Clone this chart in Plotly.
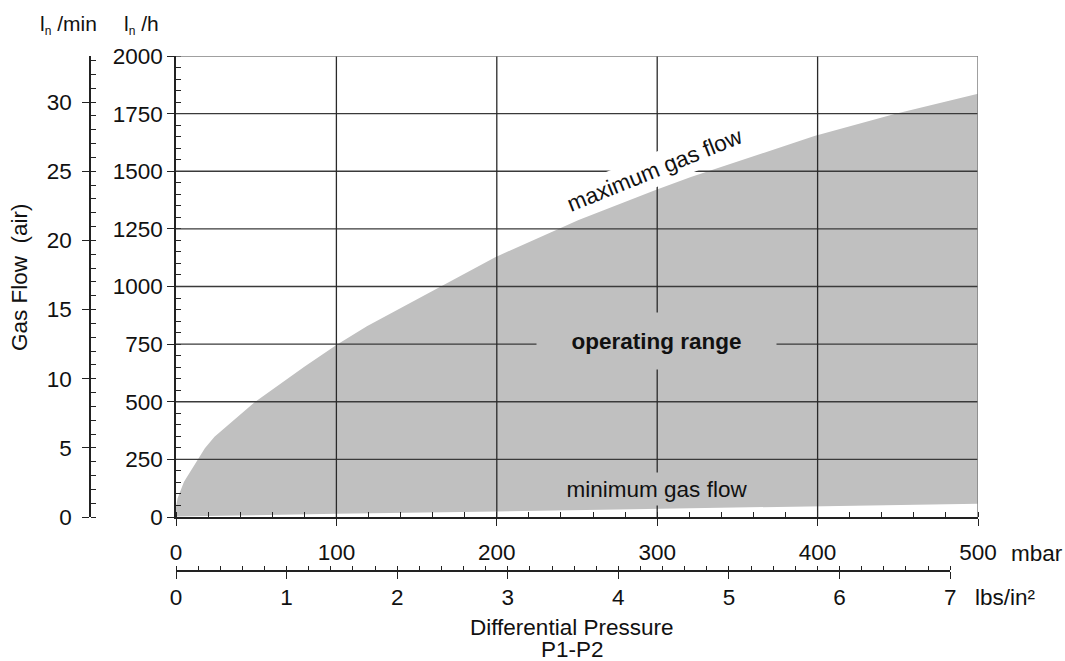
import plotly.graph_objects as go

OFF = 0                      # page body margin removed by post_script
W, H = 1065, 661

# ---- data ----
max_p = [0, 1, 5, 13, 18, 24, 49, 80, 100, 119, 164, 199, 251, 299, 321, 398, 448, 500]       # mbar
max_q = [43, 81, 153, 244, 298, 348, 498, 652, 746, 828, 997, 1127, 1289, 1419, 1475, 1653, 1748, 1836]  # l/h
min_p = [0, 50, 100, 200, 300, 400, 500]
min_q = [2, 8, 14, 24, 35, 46, 58]

mbar_ticks = [0, 100, 200, 300, 400, 500]
lh_ticks = [0, 250, 500, 750, 1000, 1250, 1500, 1750, 2000]
lmin_ticks = [0, 5, 10, 15, 20, 25, 30]
psi_ticks = [0, 1, 2, 3, 4, 5, 6, 7]

MBAR_PER_PSI = 68.9476
FONT = "Liberation Sans, Arial, sans-serif"
FS = 22.5

def px(x):
    return (x - OFF) / W

def py(y):
    return 1 - (y - OFF) / H

# polygon of the operating range
poly_x = max_p + min_p[::-1]
poly_y = max_q + min_q[::-1]

fig = go.Figure()
fig.add_trace(go.Scatter(x=poly_x, y=poly_y, fill="toself", fillcolor="#c0c0c0",
                         mode="lines", line=dict(width=0, color="#c0c0c0"),
                         hoverinfo="skip", showlegend=False))
# invisible trace to instantiate the secondary axes
fig.add_trace(go.Scatter(x=[0], y=[0], xaxis="x2", yaxis="y2", mode="markers",
                         marker=dict(opacity=0), showlegend=False, hoverinfo="skip"))

shapes = []
for v in lh_ticks[1:-1]:
    shapes.append(dict(type="line", xref="x", yref="y", x0=0, x1=500, y0=v, y1=v,
                       line=dict(color="#3a3a3a", width=1.3)))
for v in mbar_ticks[1:-1]:
    shapes.append(dict(type="line", xref="x", yref="y", x0=v, x1=v, y0=0, y1=2000,
                       line=dict(color="#2a2a2a", width=1.3)))
shapes.append(dict(type="line", xref="x", yref="y", x0=0, x1=500, y0=2000, y1=2000,
                   line=dict(color="#808080", width=1.5)))
shapes.append(dict(type="line", xref="x", yref="y", x0=500, x1=500, y0=0, y1=2000,
                   line=dict(color="#808080", width=1.5)))

axcol = "#222"
tf = dict(family=FONT, size=FS, color="#111")
tf_small = dict(family=FONT, size=21, color="#111")
SUB = "<sub><span style='font-size:12px;color:#111'>n</span></sub>"

def label(x, y, text, font=tf, **kw):
    return dict(x=px(x), y=py(y), xref="paper", yref="paper", text=text, showarrow=False,
                xanchor="center", yanchor="middle", font=font, **kw)

annotations = [
    dict(x=298.6, y=1505, xref="x", yref="y", text="maximum gas flow", showarrow=False,
         xanchor="center", yanchor="middle",
         textangle=-22, bgcolor="white", width=200, height=30, font=tf),
    dict(x=299.3, y=762, xref="x", yref="y", text="<b>operating range</b>", showarrow=False,
         xanchor="center", yanchor="middle",
         bgcolor="#c0c0c0", width=237, height=54, font=tf),
    dict(x=300, y=122, xref="x", yref="y", text="minimum gas flow", showarrow=False,
         xanchor="center", yanchor="middle",
         bgcolor="#c0c0c0", width=192, height=30, font=tf),
    label(19, 277, "Gas Flow  (air)", textangle=-90),
    label(68, 25, "l" + SUB + " /min", font=tf_small),
    label(141, 25, "l" + SUB + " /h", font=tf_small),
    label(1037, 553, "mbar"),
    label(1005, 597, "lbs/in²"),
    label(571, 627, "Differential Pressure", height=20),
    label(572, 649, "P1-P2", height=20),
]

psi_end_px = 176 + 7 * MBAR_PER_PSI * (978 - 176) / 500

common = dict(ticks="outside", ticklen=7, tickwidth=1.3, tickcolor=axcol,
              showline=True, linecolor=axcol, linewidth=1.5, showgrid=False,
              zeroline=False, tickfont=tf, fixedrange=True, automargin=False)

fig.update_layout(
    template="none",
    width=W, height=H, margin=dict(l=0, r=0, t=0, b=0, pad=0, autoexpand=False),
    paper_bgcolor="white", plot_bgcolor="rgba(0,0,0,0)",
    showlegend=False,
    xaxis=dict(domain=[px(176), px(978)], range=[0, 500], tickmode="linear", tick0=0, dtick=100,
               minor=dict(tickmode="linear", tick0=0, dtick=20, ticks="inside", ticklen=5,
                          tickwidth=1, tickcolor=axcol),
               ticklabelstandoff=7, anchor="y", **common),
    yaxis=dict(domain=[py(517), py(56)], range=[0, 2000], tickmode="linear", tick0=0, dtick=250,
               minor=dict(tickmode="linear", tick0=0, dtick=50, ticks="inside", ticklen=5,
                          tickwidth=1, tickcolor=axcol),
               ticklabelstandoff=0, anchor="x", **common),
    xaxis2=dict(domain=[px(176), px(psi_end_px)], range=[0, 7], tickmode="linear", tick0=0, dtick=1,
                anchor="free", position=py(571), side="bottom",
                minor=dict(tickmode="linear", tick0=0, dtick=0.2, ticks="inside", ticklen=4,
                           tickwidth=1, tickcolor=axcol),
                ticklabelstandoff=-1, **common),
    yaxis2=dict(range=[0, 2000 / 60], tickmode="linear", tick0=0, dtick=5,
                anchor="free", position=px(90), side="left", overlaying="y",
                minor=dict(tickmode="linear", tick0=0, dtick=1, ticks="inside", ticklen=5,
                           tickwidth=1, tickcolor=axcol),
                ticklabelstandoff=6, **common),
    shapes=shapes,
    annotations=annotations,
)

fig.write_html("out.html", config={"displayModeBar": False},
               post_script="document.body.style.margin='0px';document.body.style.overflow='hidden';")
